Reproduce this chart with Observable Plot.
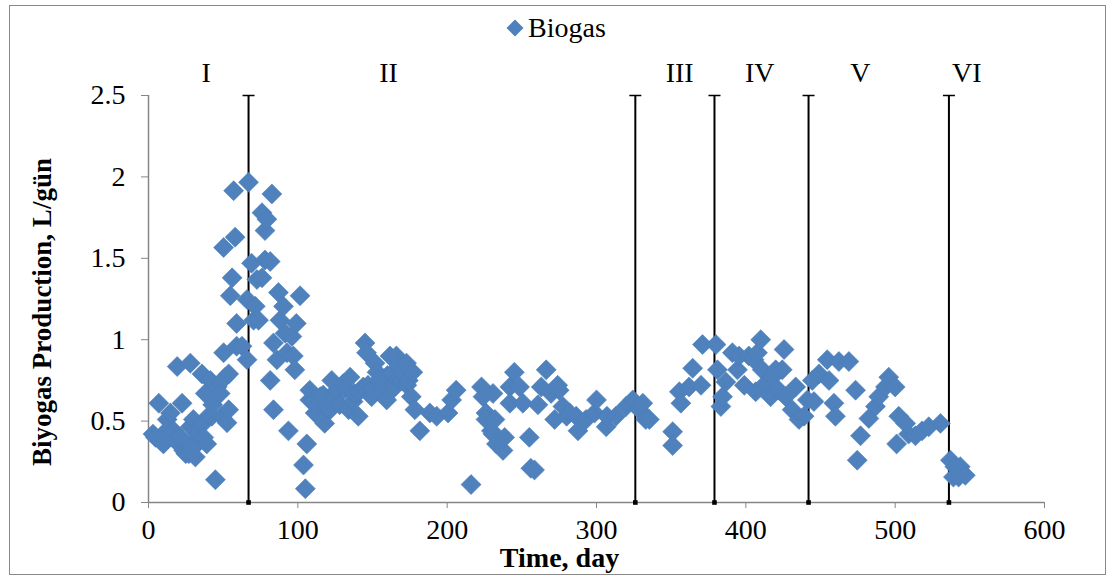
<!DOCTYPE html>
<html>
<head>
<meta charset="utf-8">
<script src="https://cdn.jsdelivr.net/npm/d3@7"></script>
<script src="https://cdn.jsdelivr.net/npm/@observablehq/plot@0.6"></script>
<style>
  html, body { margin: 0; padding: 0; background: #fff; }
  #wrap { position: relative; width: 1112px; height: 578px; overflow: hidden; font-family: "Liberation Serif", "Times New Roman", serif; }
  #border { position: absolute; left: 9px; top: 5px; width: 1097px; height: 570px; border: 1px solid #898989; box-sizing: border-box; }
  #legend { position: absolute; left: 0; top: 0; width: 1112px; height: 52px; font-size: 28px; color: #000; }
  #legend .item { position: absolute; left: 505px; top: 12px; display: flex; align-items: center; }
  #legend svg { margin-right: 3px; }
  #chart { position: absolute; left: 0; top: 52px; }
  #chart svg text { fill: #000; }
  #chart svg [aria-label^="x-axis"] text, #chart svg [aria-label^="y-axis"] text { font-size: 28px; }
</style>
</head>
<body>
<div id="wrap">
  <div id="border"></div>
  <div id="legend"></div>
  <div id="chart"></div>
</div>
<script>
// ---- data ----
const seriesName = "Biogas";
const xTitle = "Time, day";
const yTitle = "Biyogas Production, L/gün";
const xTicks = [0, 100, 200, 300, 400, 500, 600];
const yTicks = [0, 0.5, 1, 1.5, 2, 2.5];
const phaseBoundaries = [67, 326, 379, 442, 536];
const phaseLabels = ["I", "II", "III", "IV", "V", "VI"];
const phaseLabelDays = [38.6, 160.7, 355.7, 409.3, 476.7, 548];

const days = [
  3, 4.7, 6.9, 8, 10, 12.5, 13, 14.7, 16.9, 18, 19.2, 21.4, 22.5, 23.6, 25, 27, 28, 28, 29, 30,
  31.4, 32.5, 33, 35.8, 36, 37, 38, 39, 40, 41.4, 42.5, 43, 44.8, 46, 48, 49, 50.3, 50.3, 51.4, 52.6,
  53.7, 53.7, 54.8, 56, 57, 58, 59, 59, 62.6, 66, 66, 67,
  69, 70.4, 71.5, 72.6, 73.7, 76, 76, 78, 78, 79.3, 81.5, 81.5, 82.6, 83.7, 83.7, 86, 87, 88, 90.4, 91.5,
  92.7, 93.7, 96, 97, 98, 99, 101.5, 103.8, 105, 106, 108, 108, 110.5, 111.6, 113, 115, 117, 118, 119, 121.6,
  122.7, 125, 126, 128, 130.4, 132, 134, 135, 137, 138, 140.5, 141, 143.8, 145, 146, 147, 149.4, 150, 151.7, 153,
  154, 156, 157, 159.5, 160, 161.7, 162.8, 164, 166, 167, 168, 169.5, 170, 172.8, 173, 174, 175, 176, 177, 178.4,
  181.7, 188.4, 193, 200.6, 203, 206, 216, 223, 224, 226, 226, 229.6, 230.7, 230.7, 232, 233, 237.4, 238.5, 242, 242,
  245, 248.5, 250.7, 255, 256, 258.5, 260.8, 263, 266.3, 269.6, 272, 274, 275, 277.5, 280, 282, 286.4, 287.6, 293, 298.7,
  300, 306.5, 307, 313, 319.8, 324.3,
  328.7, 331, 333, 335.4, 351, 351, 355.5, 356.5, 362, 364.4, 370, 371,
  380, 381, 383.3, 384.4, 386.6, 391, 394.4, 395.5, 399, 402, 405.5, 406.6, 407.8, 410, 411, 413, 416.6, 417.8, 420, 422,
  424.4, 425.6, 426.7, 431, 433.4, 435.6, 439,
  441.2, 444.5, 445.6, 449, 454.5, 455.7, 459, 460, 462.3, 469, 473.5, 474.6, 476.8, 482.4, 486.8, 489, 493.5, 495.7, 500, 501,
  502.4, 507, 509, 513.6, 518, 522.5, 530.3,
  537, 539, 540, 542.5, 543.6, 547
];
const biogas = [
  0.42, 0.40, 0.61, 0.38, 0.36, 0.51, 0.45, 0.55, 0.44, 0.38, 0.835, 0.40, 0.61, 0.32, 0.30, 0.30, 0.856, 0.465, 0.35, 0.51,
  0.28, 0.36, 0.42, 0.79, 0.48, 0.40, 0.67, 0.36, 0.53, 0.75, 0.53, 0.60, 0.14, 0.71, 0.67, 0.53, 0.92, 1.566, 0.77, 0.49,
  0.57, 0.79, 1.27, 1.38, 1.915, 1.63, 0.96, 1.10, 0.96, 0.877, 1.247, 1.967,
  1.47, 1.12, 1.205, 1.37, 1.12, 1.38, 1.78, 1.49, 1.67, 1.74, 1.48, 0.75, 1.895, 0.98, 0.57, 0.877, 1.29, 1.12, 1.205, 1.04,
  0.92, 0.44, 1.02, 0.90, 0.815, 1.10, 1.27, 0.23, 0.085, 0.36, 0.63, 0.69, 0.63, 0.55, 0.60, 0.65, 0.66, 0.486, 0.58, 0.57,
  0.75, 0.64, 0.69, 0.60, 0.73, 0.70, 0.57, 0.77, 0.62, 0.67, 0.53, 0.68, 0.71, 0.98, 0.92, 0.72, 0.65, 0.70, 0.856, 0.80,
  0.75, 0.67, 0.72, 0.63, 0.78, 0.90, 0.79, 0.70, 0.90, 0.76, 0.835, 0.75, 0.80, 0.856, 0.72, 0.75, 0.815, 0.65, 0.80, 0.57,
  0.44, 0.55, 0.53, 0.55, 0.63, 0.69, 0.11, 0.71, 0.65, 0.55, 0.51, 0.44, 0.67, 0.42, 0.51, 0.36, 0.32, 0.40, 0.71, 0.61,
  0.80, 0.71, 0.61, 0.40, 0.21, 0.20, 0.60, 0.71, 0.815, 0.67, 0.51, 0.72, 0.69, 0.59, 0.53, 0.55, 0.53, 0.44, 0.51, 0.55,
  0.63, 0.465, 0.53, 0.53, 0.59, 0.63,
  0.57, 0.61, 0.51, 0.51, 0.435, 0.35, 0.68, 0.61, 0.71, 0.825, 0.72, 0.97,
  0.97, 0.815, 0.59, 0.65, 0.74, 0.92, 0.815, 0.90, 0.72, 0.90, 0.877, 0.68, 0.92, 1.0, 0.815, 0.73, 0.65, 0.77, 0.815, 0.69,
  0.815, 0.94, 0.65, 0.57, 0.71, 0.51, 0.53,
  0.63, 0.75, 0.62, 0.79, 0.877, 0.75, 0.61, 0.53, 0.866, 0.866, 0.69, 0.26, 0.41, 0.516, 0.59, 0.65, 0.71, 0.77, 0.71, 0.36,
  0.53, 0.486, 0.42, 0.41, 0.44, 0.465, 0.486,
  0.26, 0.156, 0.22, 0.156, 0.22, 0.167
];

// ---- build ----
const points = days.map((d, i) => ({day: d, value: biogas[i]}));
const phaseText = phaseLabels.map((t, i) => ({label: t, day: phaseLabelDays[i]}));
const yMax = yTicks[yTicks.length - 1];
const blue = "#4F81BD";
const axisGray = "#868686";

const capSymbol = {
  draw(context) { context.moveTo(-6, 0); context.lineTo(6, 0); }
};

const chart = Plot.plot({
  width: 1112,
  height: 526,
  marginTop: 43,
  marginBottom: 76,
  marginLeft: 148,
  marginRight: 68,
  style: {fontFamily: "'Liberation Serif', 'Times New Roman', serif", fontSize: "28px", color: axisGray, background: "transparent", overflow: "visible"},
  x: {domain: [0, 600], ticks: xTicks, tickSize: 6, tickPadding: 11, tickFormat: d => String(d), label: null},
  y: {domain: [0, yMax], ticks: yTicks, tickSize: 7, tickPadding: 16, tickFormat: d => String(d), label: null},
  marks: [
    Plot.ruleY([0], {stroke: axisGray, strokeWidth: 1.5}),
    Plot.ruleX([0], {stroke: axisGray, strokeWidth: 1.5}),
    Plot.ruleX(phaseBoundaries, {x: d => d, y1: 0, y2: yMax, stroke: "#000", strokeWidth: 2}),
    Plot.dot(phaseBoundaries, {x: d => d, y: yMax, symbol: capSymbol, r: 4, stroke: "#000", strokeWidth: 1.5, fill: "none"}),
    Plot.dot(points, {x: "day", y: "value", symbol: "diamond2", r: 9, fill: blue, stroke: "#4A7EBB", strokeWidth: 0.6}),
    Plot.dot(phaseBoundaries, {x: d => d, y: 0, symbol: "square", r: 2.6, fill: "#000"}),
    Plot.text(phaseText, {x: "day", y: yMax, text: "label", dy: -22, fontSize: 28, fill: "#000", lineAnchor: "middle"}),
    Plot.text([xTitle], {frameAnchor: "bottom", text: d => d, dx: -37, dy: 56, fontSize: 28, fontWeight: "bold", fill: "#000", lineAnchor: "middle"}),
    Plot.text([yTitle], {frameAnchor: "left", text: d => d, rotate: -90, textAnchor: "middle", lineAnchor: "middle", dx: -106, dy: 13, fontSize: 27, fontWeight: "bold", fill: "#000"})
  ]
});
document.getElementById("chart").appendChild(chart);

// legend
const legend = document.getElementById("legend");
const item = document.createElement("div");
item.className = "item";
item.innerHTML = `<svg width="20" height="20" viewBox="-10 -10 20 20"><path d="M0,-8.5L8.5,0L0,8.5L-8.5,0Z" fill="${blue}"/></svg><span>${seriesName}</span>`;
legend.appendChild(item);
</script>
</body>
</html>
